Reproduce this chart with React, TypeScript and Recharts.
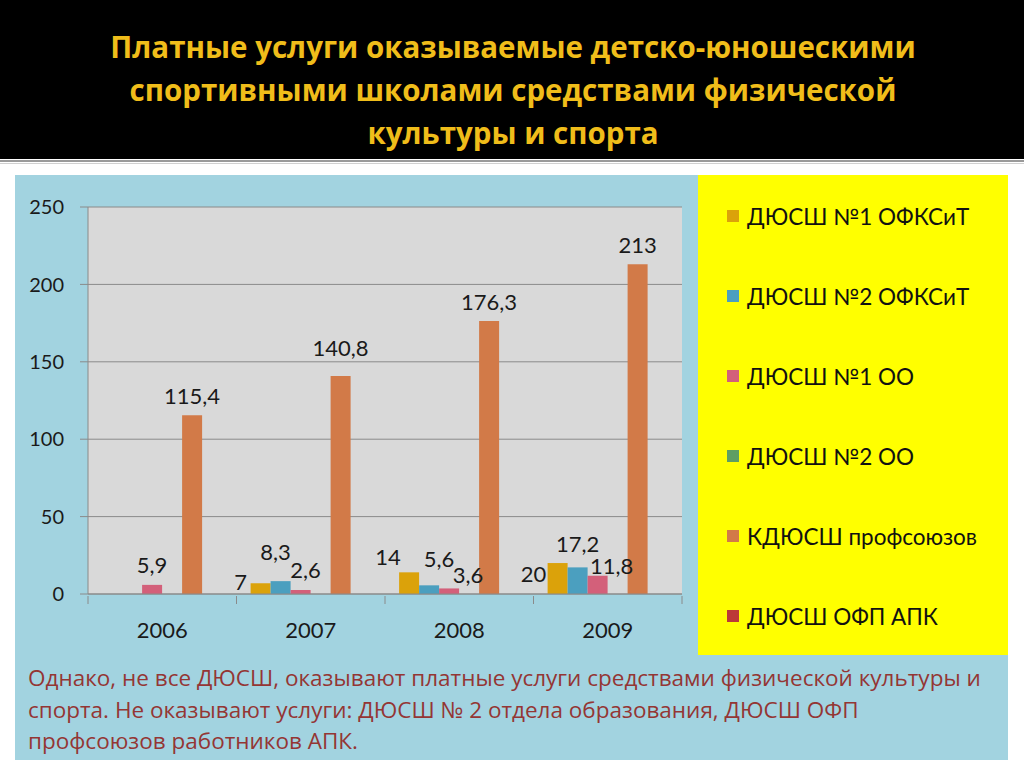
import React from 'react';
import { BarChart, Bar, XAxis, YAxis, CartesianGrid, Legend, LabelList } from 'recharts';

// years on the x axis
const years = ['2006', '2007', '2008', '2009'];

// one array per school (null = no paid services that year)
const dyussh1Ofksit = [null, 7, 14, 20];
const dyussh2Ofksit = [null, 8.3, 5.6, 17.2];
const dyussh1Oo = [5.9, 2.6, 3.6, 11.8];
const dyussh2Oo = [null, null, null, null];
const kdyusshProf = [115.4, 140.8, 176.3, 213];
const dyusshOfpApk = [null, null, null, null];

const seriesNames = [
  'ДЮСШ №1 ОФКСиТ',
  'ДЮСШ №2 ОФКСиТ',
  'ДЮСШ №1 ОО',
  'ДЮСШ №2 ОО',
  'КДЮСШ профсоюзов',
  'ДЮСШ ОФП АПК',
];
const seriesValues = [dyussh1Ofksit, dyussh2Ofksit, dyussh1Oo, dyussh2Oo, kdyusshProf, dyusshOfpApk];
const seriesColors = ['#DBA20A', '#4B9FBF', '#D3607A', '#5E9E63', '#D27A48', '#BC3A38'];

const yTicks = [0, 50, 100, 150, 200, 250];

const titleLines = [
  'Платные услуги оказываемые детско-юношескими',
  'спортивными школами средствами физической',
  'культуры и спорта',
];
const noteLines = [
  'Однако, не все ДЮСШ, оказывают платные услуги средствами физической культуры и',
  'спорта. Не оказывают услуги: ДЮСШ № 2 отдела образования, ДЮСШ ОФП',
  'профсоюзов работников АПК.',
];

// manual label nudges (series-year), like the hand-moved labels in the original slide
const labelNudge: Record<string, [number, number]> = {
  '0-1': [-20, 18],
  '1-1': [-5, -10],
  '2-1': [5, 0],
  '4-1': [0, -9],
  '0-2': [-21, 4],
  '1-2': [10, -7],
  '2-2': [19, 6],
  '0-3': [-24, 30],
  '1-3': [0, -4],
  '2-3': [14, 10],
};

const data = years.map((year, i) => {
  const row: Record<string, any> = { year };
  seriesValues.forEach((vals, s) => {
    row['s' + s] = vals[i];
  });
  return row;
});

const chartFont = 'Lato, "Open Sans", sans-serif';

const makeLabel = (s: number) => (props: any) => {
  const { x, y, width, value } = props;
  if (value === null || value === undefined) return null;
  const yearIdx = seriesValues[s].indexOf(value);
  const [dx, dy] = labelNudge[`${s}-${yearIdx}`] || [0, 0];
  return (
    <text
      x={x + width / 2 + dx}
      y={y - 20 + dy}
      textAnchor="middle"
      dominantBaseline="central"
      fontFamily={chartFont}
      fontSize={22}
      fill="#1a1a1a"
    >
      {String(value).replace('.', ',')}
    </text>
  );
};

const YearTick = (props: any) => {
  const { x, y, payload, index } = props;
  const half = payload.offset || 0;
  return (
    <g>
      <line x1={x - half} y1={y - 8} x2={x - half} y2={y} stroke="#8a8a8a" />
      {index === years.length - 1 && (
        <line x1={x + half} y1={y - 8} x2={x + half} y2={y} stroke="#8a8a8a" />
      )}
      <text
        x={x}
        y={y + 25}
        textAnchor="middle"
        dominantBaseline="central"
        fontFamily={chartFont}
        fontSize={22}
        fill="#1a1a1a"
      >
        {payload.value}
      </text>
    </g>
  );
};

const LegendBox = () => (
  <div style={{ width: 310, height: 480, background: '#FFFF00', position: 'relative' }}>
    {seriesNames.map((name, i) => (
      <div
        key={name}
        style={{
          position: 'absolute',
          left: 29,
          top: 27 + i * 80,
          height: 28,
          display: 'flex',
          alignItems: 'center',
          fontFamily: chartFont,
          fontSize: 22.5,
          color: '#111',
          whiteSpace: 'nowrap',
        }}
      >
        <span style={{ width: 12, height: 12, background: seriesColors[i], marginRight: 8 }} />
        {name}
      </div>
    ))}
  </div>
);

export default function App() {
  return (
    <div
      style={{
        position: 'absolute',
        left: 0,
        top: 0,
        width: 1024,
        height: 768,
        background: '#ffffff',
        overflow: 'hidden',
      }}
    >
      {/* black title band */}
      <div style={{ position: 'absolute', left: 0, top: 0, width: 1024, height: 159, background: '#000' }} />
      <div style={{ position: 'absolute', left: 0, top: 160, width: 1024, height: 2, background: '#9a9a9a' }} />
      <div style={{ position: 'absolute', left: 0, top: 163, width: 1024, height: 1, background: '#d0d0d0' }} />
      <div
        style={{
          position: 'absolute',
          left: 0,
          top: 25,
          width: 1026,
          textAlign: 'center',
          fontFamily: '"Open Sans", sans-serif',
          fontWeight: 700,
          fontSize: 29.5,
          lineHeight: '43px',
          color: '#F0BD1A',
        }}
      >
        {titleLines.map((l) => (
          <div key={l}>{l}</div>
        ))}
      </div>

      {/* blue panel */}
      <div style={{ position: 'absolute', left: 15, top: 175, width: 993, height: 585, background: '#A2D3E0' }} />

      <div style={{ position: 'absolute', left: 0, top: 0 }}>
        <BarChart
          width={1024}
          height={768}
          data={data}
          margin={{ top: 207, right: 342, bottom: 134, left: 28 }}
          barGap={0}
          barCategoryGap="9.5%"
        >
          <CartesianGrid vertical={false} fill="#D9D9D9" stroke="#8a8a8a" />
          <XAxis
            dataKey="year"
            height={40}
            tickSize={8}
            tickLine={false}
            axisLine={{ stroke: '#8a8a8a' }}
            tick={<YearTick />}
            interval={0}
          />
          <YAxis
            width={60}
            domain={[0, 250]}
            ticks={yTicks}
            tickSize={8}
            tickMargin={16}
            axisLine={{ stroke: '#8a8a8a' }}
            tickLine={{ stroke: '#8a8a8a' }}
            tick={{ fontFamily: chartFont, fontSize: 20, fill: '#1a1a1a' }}
          />
          <Legend
            layout="vertical"
            align="center"
            verticalAlign="middle"
            wrapperStyle={{ left: 698, top: 175, width: 310, height: 480 }}
            content={<LegendBox />}
          />
          {seriesNames.map((name, s) => (
            <Bar key={name} dataKey={'s' + s} name={name} fill={seriesColors[s]} isAnimationActive={false}>
              <LabelList dataKey={'s' + s} content={makeLabel(s)} />
            </Bar>
          ))}
        </BarChart>
      </div>

      {/* note under the chart */}
      <div
        style={{
          position: 'absolute',
          left: 28,
          top: 662,
          fontFamily: '"Open Sans", sans-serif',
          fontSize: 22.5,
          lineHeight: '31.5px',
          color: '#943634',
          whiteSpace: 'nowrap',
        }}
      >
        {noteLines.map((l) => (
          <div key={l}>{l}</div>
        ))}
      </div>
    </div>
  );
}
